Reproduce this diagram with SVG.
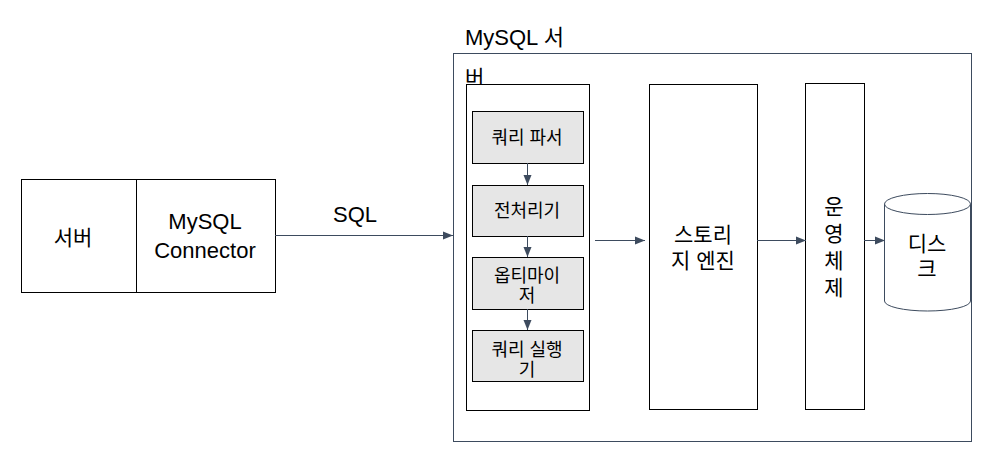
<svg xmlns="http://www.w3.org/2000/svg" width="1000" height="466" viewBox="0 0 1000 466">
<style>
text{font-family:"Liberation Sans","Noto Sans CJK KR",sans-serif;fill:#000;text-anchor:middle}
.b{fill:#fff;stroke:#000;stroke-width:1}
.s{fill:#e6e6e6;stroke:#000;stroke-width:1}
.l{font-size:22px}
.k{font-size:21px}
.m{font-size:18px}
.c{stroke:#3d4b5e;stroke-width:1;fill:none}
</style>
<defs>
<marker id="ah" viewBox="0 0 10 10" refX="10" refY="5" markerWidth="10" markerHeight="10" markerUnits="userSpaceOnUse" orient="auto">
<path d="M0,1 L10,5 L0,9 Z" fill="#3d4b5e"/>
</marker>
</defs>
<rect width="1000" height="466" fill="#fff"/>
<g id="mysql-server">
<rect x="453.5" y="53.5" width="518" height="388" fill="#fff" stroke="#3d4b5e"/>
<text class="l" x="465" y="45" style="text-anchor:start">MySQL 서</text>
<text class="k" x="465" y="85" style="text-anchor:start">버</text>
</g>
<g id="server"><rect class="b" x="21.5" y="179.5" width="115" height="113"/><text class="k" x="73" y="245">서버</text></g>
<g id="connector"><rect class="b" x="136.5" y="179.5" width="139" height="113"/><text class="l" x="205" y="229">MySQL</text><text class="l" x="205" y="258">Connector</text></g>
<g id="sql-layer"><rect class="b" x="466.5" y="84.5" width="123" height="326"/></g>
<g id="parser"><rect class="s" x="472.5" y="111.5" width="111" height="52"/><text class="m" x="527" y="144">쿼리 파서</text></g>
<g id="preprocessor"><rect class="s" x="472.5" y="185.5" width="111" height="51"/><text class="m" x="527" y="217">전처리기</text></g>
<g id="optimizer"><rect class="s" x="472.5" y="257.5" width="111" height="52"/><text class="m" x="527" y="282">옵티마이</text><text class="m" x="527" y="302">저</text></g>
<g id="executor"><rect class="s" x="472.5" y="330.5" width="111" height="51"/><text class="m" x="527" y="356">쿼리 실행</text><text class="m" x="527" y="376">기</text></g>
<g id="storage-engine"><rect class="b" x="649.5" y="84.5" width="108" height="325"/><text class="k" x="703" y="242">스토리</text><text class="k" x="703" y="268">지 엔진</text></g>
<g id="os"><rect class="b" x="805.5" y="83.5" width="59" height="326"/><text class="k" x="834" y="214">운</text><text class="k" x="834" y="241">영</text><text class="k" x="834" y="268">체</text><text class="k" x="834" y="295">제</text></g>
<g id="disk">
<path d="M884.5,204 L884.5,301 A43,10 0 0 0 970.5,301 L970.5,204" fill="#fff" stroke="#3d4b5e"/>
<ellipse cx="927.5" cy="204" rx="43" ry="10.5" fill="#fff" stroke="#3d4b5e"/>
<text class="k" x="927" y="251">디스</text><text class="k" x="927" y="276">크</text>
</g>
<g id="connectors">
<line class="c" x1="275" y1="235.5" x2="453" y2="235.5" marker-end="url(#ah)"/>
<text class="l" x="355" y="222">SQL</text>
<line class="c" x1="527.5" y1="163" x2="527.5" y2="185" marker-end="url(#ah)"/>
<line class="c" x1="527.5" y1="236" x2="527.5" y2="257" marker-end="url(#ah)"/>
<line class="c" x1="527.5" y1="309" x2="527.5" y2="330" marker-end="url(#ah)"/>
<line class="c" x1="595" y1="240.5" x2="645" y2="240.5" marker-end="url(#ah)"/>
<line class="c" x1="757" y1="240.5" x2="806" y2="240.5" marker-end="url(#ah)"/>
<line class="c" x1="864" y1="240.5" x2="885" y2="240.5" marker-end="url(#ah)"/>
</g>
</svg>
